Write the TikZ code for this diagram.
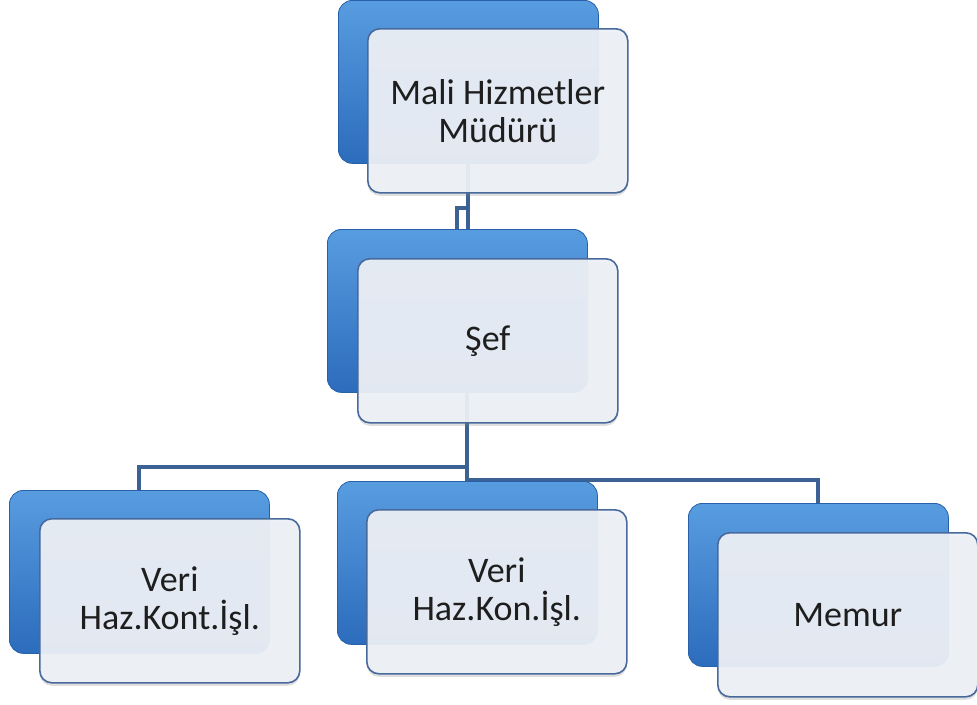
\documentclass[tikz,border=0pt]{standalone}
\usepackage{fontspec}
\setmainfont{Carlito}
\usetikzlibrary{shadows,calc}
\pgfdeclarelayer{background}
\pgfsetlayers{background,main}
\definecolor{bluetop}{RGB}{88,156,224}
\definecolor{bluebot}{RGB}{44,108,188}
\definecolor{blueedge}{RGB}{40,96,170}
\definecolor{frontfill}{RGB}{237,240,246}
\definecolor{frontedge}{RGB}{72,105,155}
\definecolor{linkcol}{RGB}{60,98,148}
\definecolor{txt}{RGB}{30,30,30}
\tikzset{
  backbox/.style={anchor=north west, minimum width=260pt, minimum height=163pt,
    rounded corners=14pt, top color=bluetop, bottom color=bluebot, draw=blueedge,
    line width=0.8pt, inner sep=0pt},
  frontbox/.style={anchor=north west, minimum width=260pt, minimum height=164pt,
    rounded corners=12pt, fill=frontfill, fill opacity=0.94, text opacity=1,
    draw=frontedge, line width=1.6pt, inner sep=0pt, text=txt, align=center,
    font=\fontsize{36}{38}\selectfont,
    drop shadow={shadow xshift=0pt, shadow yshift=-3pt, opacity=0.25}},
  link/.style={draw=linkcol, line width=4pt, line cap=butt, line join=miter}
}
\begin{document}
\begin{tikzpicture}[x=1pt,y=-1pt]
\useasboundingbox (0,0) rectangle (977,704);
% top
\node[backbox] (topB) at (338,0) {};
\node[frontbox] (topF) at (367,28) {Mali Hizmetler\\Müdürü};
% sef
\node[backbox] (sefB) at (327,229) {};
\node[frontbox] (sefF) at (357,258) {Şef};
% children
\node[backbox] (leftB) at (9,490) {};
\node[frontbox] (leftF) at (39,518) {Veri\\Haz.Kont.İşl.};
\node[backbox] (midB) at (337,481) {};
\node[frontbox] (midF) at (366,509) {Veri\\Haz.Kon.İşl.};
\node[backbox] (rightB) at (688,503) {};
\node[frontbox] (rightF) at (717,532) {Memur};
\begin{pgfonlayer}{background}
  \draw[link] (topB.south) -- (topB.south |- sefB.north);
  \draw[link] ($(topB.south)+(0,44)$) -| (sefB.north);
  \draw[link] (midB.north |- sefB.south) -- (midB.north);
  \draw[link] ($(midB.north)+(0,-14)$) -| (leftB.north);
  \draw[link] ($(midB.north)+(0,-1)$) -| (rightB.north);
\end{pgfonlayer}
\end{tikzpicture}
\end{document}
